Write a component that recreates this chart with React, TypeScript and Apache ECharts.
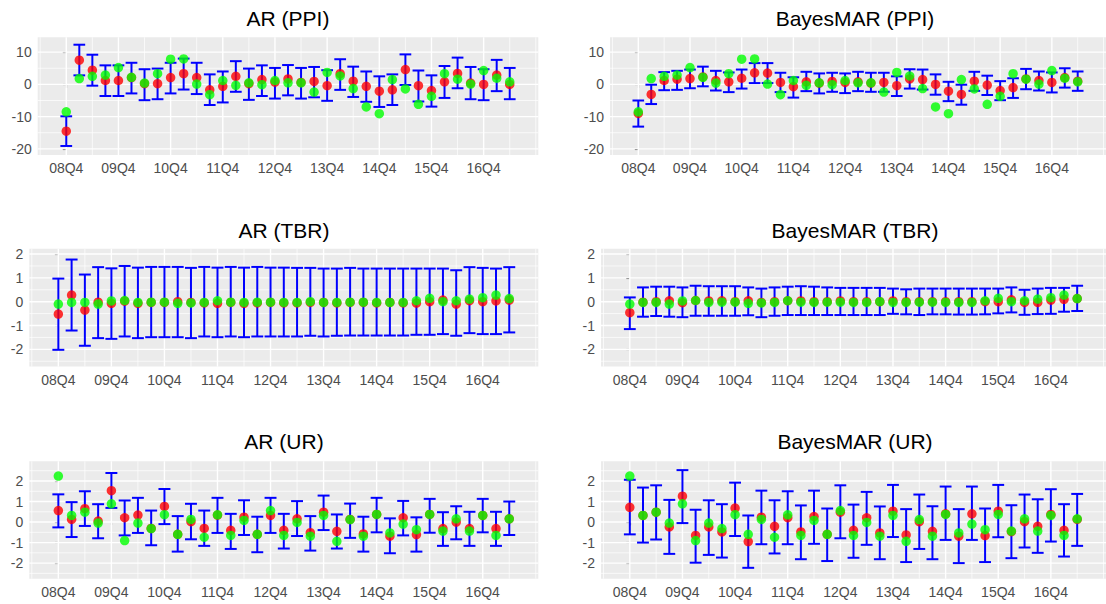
import React, { useEffect, useRef } from "react";
import * as echarts from "echarts";

// ---------- DATA ----------
const tickLabels = ["08Q4", "09Q4", "10Q4", "11Q4", "12Q4", "13Q4", "14Q4", "15Q4", "16Q4"];

const ppiActual = [-8.5, 1.8, 2.5, 2.9, 5.2, 2.2, 0.4, 3.3, 7.8, 7.9, 0.1, -3.2, 1.2, -0.3, 0.5, -0.1, 1.2, 0.5, 0.5, -2.4, 3.7, 2.6, -1.3, -7.0, -9.1, 1.5, -1.4, -6.2, -3.7, 3.3, 1.6, 0.1, 4.3, 1.9, 0.8];
const arPpiPred = [-14.5, 7.5, 4.4, 1.2, 1.2, 2.1, 0.2, 0.2, 2.1, 3.3, 2.1, -1.7, -0.6, 2.5, 0.2, 1.5, 0.7, 1.7, 0.6, 0.9, -0.4, 3.3, 1.0, -0.6, -2.1, -1.7, 4.6, -0.4, -1.9, 0.8, 3.4, 0.4, 0.0, 2.9, 0.0];
const arPpiHi = [-9.9, 12.3, 9.2, 5.9, 5.9, 6.7, 4.7, 4.9, 6.7, 8.0, 6.7, 3.1, 4.0, 7.2, 4.9, 5.9, 5.1, 6.0, 5.1, 5.4, 4.4, 7.8, 5.5, 4.0, 2.5, 3.1, 9.3, 4.3, 2.8, 5.7, 8.3, 5.4, 4.7, 7.6, 5.1];
const arPpiLo = [-19.1, 2.8, -0.4, -3.6, -3.6, -2.8, -4.9, -4.6, -2.8, -1.6, -3.0, -6.4, -5.6, -2.3, -4.8, -3.6, -4.4, -3.4, -4.4, -4.0, -5.1, -1.7, -3.9, -5.4, -7.0, -6.4, -0.2, -5.3, -6.9, -4.2, -1.2, -4.6, -4.9, -2.1, -4.6];
const bmPpiPred = [-9.0, -3.1, 1.2, 1.6, 1.8, 2.3, 1.2, 0.8, 1.9, 3.6, 3.5, 0.6, -0.7, 0.8, 0.4, 0.9, 0.6, 0.8, 0.4, 0.6, -0.4, 1.7, 1.5, 0.0, -2.1, -3.1, 1.0, -0.2, -1.9, -1.0, 1.7, 1.2, 0.6, 2.1, 1.0];
const bmPpiHi = [-5.0, -0.1, 3.8, 4.2, 4.6, 5.5, 4.2, 3.7, 4.6, 6.6, 6.6, 3.6, 2.2, 3.9, 3.4, 3.6, 3.4, 3.9, 3.6, 3.6, 2.5, 4.7, 4.6, 3.1, 0.8, -0.1, 3.9, 2.7, 1.0, 1.9, 4.8, 4.0, 3.7, 5.0, 4.0];
const bmPpiLo = [-13.1, -6.1, -1.8, -1.7, -1.2, -0.6, -1.9, -2.4, -1.3, 0.4, 0.4, -2.4, -4.1, -2.1, -2.8, -2.3, -2.7, -2.1, -2.3, -2.3, -3.6, -1.3, -1.6, -3.2, -5.2, -6.3, -2.0, -3.3, -4.9, -4.2, -1.5, -1.9, -2.5, -1.0, -2.0];

const tbrActual = [-0.1, -0.03, -0.03, -0.1, 0.03, 0.05, -0.03, -0.02, -0.02, -0.07, -0.05, -0.03, 0.04, -0.02, -0.03, -0.02, -0.02, -0.03, -0.03, 0.0, -0.03, -0.03, -0.02, -0.02, -0.03, -0.03, -0.03, 0.04, 0.14, 0.0, 0.04, 0.11, 0.17, 0.28, 0.13];
const arTbrPred = [-0.52, 0.28, -0.35, -0.02, -0.07, 0.02, -0.07, -0.03, -0.03, 0.0, -0.03, -0.05, -0.07, -0.03, -0.07, -0.05, -0.03, -0.05, -0.05, -0.03, -0.03, -0.05, -0.03, -0.03, -0.05, -0.03, -0.05, -0.06, 0.0, 0.07, -0.1, 0.04, 0.0, 0.03, 0.07];
const arTbrHi = [0.97, 1.77, 1.14, 1.45, 1.4, 1.5, 1.43, 1.46, 1.46, 1.46, 1.42, 1.46, 1.43, 1.46, 1.43, 1.46, 1.43, 1.43, 1.42, 1.42, 1.39, 1.39, 1.42, 1.39, 1.39, 1.39, 1.39, 1.39, 1.39, 1.39, 1.32, 1.45, 1.42, 1.39, 1.45];
const arTbrLo = [-2.02, -1.21, -1.85, -1.53, -1.56, -1.46, -1.53, -1.49, -1.49, -1.49, -1.53, -1.46, -1.49, -1.46, -1.49, -1.46, -1.46, -1.46, -1.46, -1.43, -1.46, -1.43, -1.42, -1.42, -1.42, -1.42, -1.42, -1.39, -1.39, -1.36, -1.43, -1.32, -1.36, -1.36, -1.29];
const bmTbrPred = [-0.46, -0.02, 0.0, 0.04, -0.04, 0.05, 0.03, 0.04, 0.0, 0.04, -0.03, 0.0, 0.04, 0.03, 0.0, 0.0, 0.03, 0.0, 0.0, 0.0, 0.03, 0.0, 0.0, 0.0, 0.0, 0.0, 0.0, 0.0, 0.0, 0.08, -0.03, -0.03, 0.07, 0.1, 0.13];
const bmTbrHi = [0.18, 0.6, 0.63, 0.63, 0.6, 0.67, 0.65, 0.65, 0.65, 0.6, 0.55, 0.6, 0.63, 0.65, 0.63, 0.6, 0.58, 0.58, 0.58, 0.58, 0.55, 0.52, 0.55, 0.55, 0.55, 0.55, 0.55, 0.55, 0.55, 0.6, 0.5, 0.55, 0.58, 0.58, 0.67];
const bmTbrLo = [-1.15, -0.63, -0.6, -0.63, -0.65, -0.59, -0.59, -0.59, -0.59, -0.57, -0.65, -0.59, -0.56, -0.56, -0.56, -0.56, -0.56, -0.56, -0.56, -0.56, -0.51, -0.53, -0.56, -0.53, -0.53, -0.54, -0.54, -0.53, -0.49, -0.45, -0.55, -0.52, -0.51, -0.42, -0.39];

const urActual = [2.24, 0.32, 0.48, -0.05, 0.89, -0.9, -0.05, -0.32, 0.36, -0.6, 0.13, -0.74, 0.35, -0.65, 0.08, -0.6, 0.56, -0.65, -0.02, -0.69, 0.32, -0.94, 0.12, -0.69, 0.37, -0.53, -0.1, -0.37, 0.37, -0.44, 0.16, -0.44, 0.32, -0.65, 0.16];
const arUrPred = [0.56, 0.13, 0.65, 0.05, 1.53, 0.21, 0.34, -0.31, 0.76, -0.6, 0.02, -0.31, 0.34, -0.4, 0.24, -0.6, 0.32, -0.4, 0.16, -0.52, 0.48, -0.45, 0.13, -0.58, 0.37, -0.69, 0.21, -0.61, 0.37, -0.32, 0.0, -0.32, 0.32, -0.32, 0.16];
const arUrHi = [1.35, 0.97, 1.5, 0.87, 2.39, 1.05, 1.18, 0.56, 1.61, 0.29, 0.89, 0.56, 1.18, 0.4, 1.06, 0.26, 1.18, 0.4, 1.02, 0.29, 1.29, 0.37, 0.9, 0.26, 1.18, 0.18, 1.03, 0.23, 1.13, 0.48, 0.77, 0.5, 1.13, 0.5, 1.0];
const arUrLo = [-0.26, -0.73, -0.19, -0.79, 0.69, -0.65, -0.53, -1.13, -0.1, -1.44, -0.84, -1.16, -0.53, -1.31, -0.63, -1.47, -0.53, -1.29, -0.68, -1.39, -0.39, -1.29, -0.77, -1.44, -0.5, -1.52, -0.65, -1.44, -0.52, -1.16, -0.84, -1.16, -0.5, -1.16, -0.63];
const bmUrPred = [0.72, 0.32, 0.48, -0.24, 1.26, -0.65, -0.24, -0.48, 0.68, -0.95, 0.24, -0.21, 0.21, -0.48, 0.27, -0.6, 0.48, -0.4, 0.21, -0.53, 0.53, -0.63, 0.02, -0.45, 0.4, -0.69, 0.4, -0.66, 0.53, -0.47, 0.02, -0.21, 0.37, -0.4, 0.13];
const bmUrHi = [2.06, 1.68, 1.79, 1.08, 2.53, 0.6, 1.06, 0.87, 1.92, 0.32, 1.53, 1.06, 1.5, 0.81, 1.53, 0.66, 1.79, 0.85, 1.47, 0.76, 1.81, 0.63, 1.34, 0.77, 1.73, 0.63, 1.73, 0.66, 1.81, 0.82, 1.34, 1.11, 1.6, 0.87, 1.37];
const bmUrLo = [-0.6, -1.0, -0.85, -1.55, -0.05, -1.98, -1.6, -1.73, -0.68, -2.23, -1.08, -1.53, -1.08, -1.81, -1.06, -1.9, -0.79, -1.74, -1.11, -1.81, -0.73, -1.95, -1.31, -1.81, -0.87, -2.0, -0.87, -1.95, -0.74, -1.76, -1.24, -1.5, -0.95, -1.68, -1.16];

const ppiTicks = [-20, -10, 0, 10];
const ppiMinor = [-15, -5, 5];
const smallTicks = [-2, -1, 0, 1, 2];
const tbrMinor = [-2.5, -1.5, -0.5, 0.5, 1.5];
const urMinor = [-2.5, -1.5, -0.5, 0.5, 1.5, 2.5];

// ---------- LAYOUT ----------
const FONT = '"Liberation Sans", Arial, Helvetica, sans-serif';
const X_MIN = -2.19;
const X_MAX = 36.19;
const xMajor = tickLabels.map((_, k) => k * 4);
const xMinor = [-2, 2, 6, 10, 14, 18, 22, 26, 30, 34, 36];

type PanelCfg = {
  title: string;
  left: number;
  right: number;
  top: number;
  height: number;
  yMin: number;
  yMax: number;
  yTicks: number[];
  yMinor: number[];
  titleY: number;
  titleX: number;
  actual: number[];
  pred: number[];
  lo: number[];
  hi: number[];
};

const rows = [
  { top: 37.3, height: 117.7, yMin: -21.9, yMax: 14.6, yTicks: ppiTicks, yMinor: ppiMinor, leftL: 37.7, leftR: 610, titleY: 18 },
  { top: 248.7, height: 117.9, yMin: -2.725, yMax: 2.225, yTicks: smallTicks, yMinor: tbrMinor, leftL: 29.3, leftR: 601, titleY: 230 },
  { top: 461.3, height: 117.4, yMin: -2.76, yMax: 2.96, yTicks: smallTicks, yMinor: urMinor, leftL: 29.3, leftR: 601, titleY: 441 },
];

const panels: PanelCfg[] = [
  { title: "AR (PPI)", left: rows[0].leftL, right: 538.3, titleX: 288, ...rows[0], actual: ppiActual, pred: arPpiPred, lo: arPpiLo, hi: arPpiHi },
  { title: "BayesMAR (PPI)", left: rows[0].leftR, right: 1110, titleX: 855, ...rows[0], actual: ppiActual, pred: bmPpiPred, lo: bmPpiLo, hi: bmPpiHi },
  { title: "AR (TBR)", left: rows[1].leftL, right: 538.3, titleX: 284, ...rows[1], actual: tbrActual, pred: arTbrPred, lo: arTbrLo, hi: arTbrHi },
  { title: "BayesMAR (TBR)", left: rows[1].leftR, right: 1110, titleX: 855, ...rows[1], actual: tbrActual, pred: bmTbrPred, lo: bmTbrLo, hi: bmTbrHi },
  { title: "AR (UR)", left: rows[2].leftL, right: 538.3, titleX: 284, ...rows[2], actual: urActual, pred: arUrPred, lo: arUrLo, hi: arUrHi },
  { title: "BayesMAR (UR)", left: rows[2].leftR, right: 1110, titleX: 855, ...rows[2], actual: urActual, pred: bmUrPred, lo: bmUrLo, hi: bmUrHi },
];

function buildOption() {
  const grid: any[] = [];
  const xAxis: any[] = [];
  const yAxis: any[] = [];
  const series: any[] = [];
  const graphic: any[] = [];

  panels.forEach((p, i) => {
    grid.push({
      left: p.left,
      top: p.top,
      width: p.right - p.left,
      height: p.height,
      show: true,
      backgroundColor: "#EBEBEB",
      borderWidth: 0,
      containLabel: false,
    });
    xAxis.push({
      type: "value",
      gridIndex: i,
      min: X_MIN,
      max: X_MAX,
      axisLine: { show: false },
      splitLine: { show: false },
      axisTick: { show: true, customValues: xMajor, length: 3.5, lineStyle: { color: "#333333", width: 1.1 } },
      axisLabel: {
        show: true,
        customValues: xMajor,
        margin: 6,
        color: "#4D4D4D",
        fontSize: 14,
        fontFamily: FONT,
        formatter: (v: number) => tickLabels[Math.round(v / 4)] ?? "",
      },
    });
    yAxis.push({
      type: "value",
      gridIndex: i,
      min: p.yMin,
      max: p.yMax,
      axisLine: { show: false },
      splitLine: { show: false },
      axisTick: { show: true, customValues: p.yTicks, length: 3.5, lineStyle: { color: "#333333", width: 1.1 } },
      axisLabel: {
        show: true,
        customValues: p.yTicks,
        margin: 6,
        color: "#4D4D4D",
        fontSize: 14,
        fontFamily: FONT,
        formatter: (v: number) => String(v),
      },
    });

    // grid lines: [x, y, kind] kind 0 vmajor, 1 vminor, 2 hmajor, 3 hminor
    const gl: number[][] = [];
    xMinor.forEach((v) => gl.push([v, 0, 1]));
    p.yMinor.forEach((v) => gl.push([0, v, 3]));
    xMajor.forEach((v) => gl.push([v, 0, 0]));
    p.yTicks.forEach((v) => gl.push([0, v, 2]));
    series.push({
      type: "custom",
      xAxisIndex: i,
      yAxisIndex: i,
      silent: true,
      z: 1,
      data: gl,
      renderItem: (params: any, api: any) => {
        const kind = api.value(2);
        const cs = params.coordSys;
        const w = kind === 0 || kind === 2 ? 1.4 : 0.7;
        if (kind < 2) {
          const x = api.coord([api.value(0), 0])[0];
          return { type: "line", shape: { x1: x, y1: cs.y, x2: x, y2: cs.y + cs.height }, style: { stroke: "#FFFFFF", lineWidth: w } };
        }
        const y = api.coord([0, api.value(1)])[1];
        return { type: "line", shape: { x1: cs.x, y1: y, x2: cs.x + cs.width, y2: y }, style: { stroke: "#FFFFFF", lineWidth: w } };
      },
    });

    // error bars
    series.push({
      type: "custom",
      xAxisIndex: i,
      yAxisIndex: i,
      silent: true,
      z: 10,
      encode: { x: 0, y: [1, 2] },
      data: p.lo.map((lo, k) => [k, lo, p.hi[k]]),
      renderItem: (params: any, api: any) => {
        const x = api.value(0);
        const lo = api.value(1);
        const hi = api.value(2);
        const pLo = api.coord([x, lo]);
        const pHi = api.coord([x, hi]);
        const xl = api.coord([x - 0.45, hi])[0];
        const xr = api.coord([x + 0.45, hi])[0];
        const st = { stroke: "#0000FF", lineWidth: 2 };
        return {
          type: "group",
          children: [
            { type: "line", shape: { x1: pLo[0], y1: pLo[1], x2: pHi[0], y2: pHi[1] }, style: st },
            { type: "line", shape: { x1: xl, y1: pHi[1], x2: xr, y2: pHi[1] }, style: st },
            { type: "line", shape: { x1: xl, y1: pLo[1], x2: xr, y2: pLo[1] }, style: st },
          ],
        };
      },
    });

    series.push({
      type: "scatter",
      xAxisIndex: i,
      yAxisIndex: i,
      z: 11,
      symbol: "circle",
      symbolSize: 9.5,
      itemStyle: { color: "#FF0000" },
      silent: true,
      data: p.pred.map((v, k) => [k, v]),
    });
    series.push({
      type: "scatter",
      xAxisIndex: i,
      yAxisIndex: i,
      z: 12,
      symbol: "circle",
      symbolSize: 9.5,
      itemStyle: { color: "#00FF00" },
      silent: true,
      data: p.actual.map((v, k) => [k, v]),
    });

    graphic.push({
      type: "text",
      x: p.titleX,
      y: p.titleY,
      style: {
        text: p.title,
        fontSize: 21,
        fontFamily: FONT,
        fill: "#000000",
        textAlign: "center",
        textVerticalAlign: "middle",
      },
    });
  });

  return { animation: false, backgroundColor: "#FFFFFF", grid, xAxis, yAxis, series, graphic };
}

export default function App() {
  const ref = useRef<HTMLDivElement>(null);
  useEffect(() => {
    if (!ref.current) return;
    const chart = echarts.init(ref.current, undefined, { renderer: "svg" });
    chart.setOption(buildOption() as any);
    return () => chart.dispose();
  }, []);
  return (
    <div
      ref={ref}
      style={{ position: "fixed", left: 0, top: 0, width: 1106, height: 604, background: "#fff" }}
    />
  );
}
